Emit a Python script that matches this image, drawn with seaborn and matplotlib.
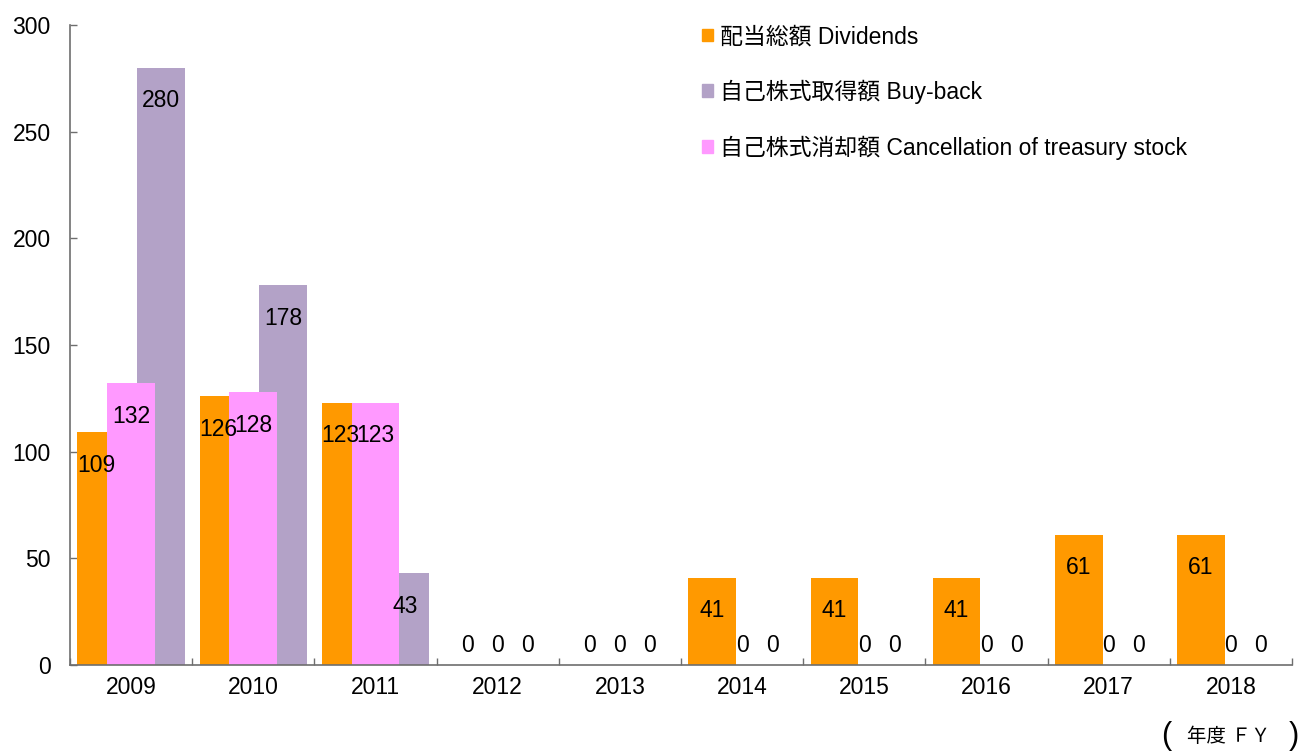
import numpy as np
import pandas as pd
import matplotlib
matplotlib.use("Agg")
import matplotlib.pyplot as plt
import seaborn as sns
from matplotlib.patches import Patch

years = ["2009", "2010", "2011", "2012", "2013", "2014", "2015", "2016", "2017", "2018"]
dividends = [109, 126, 123, 0, 0, 41, 41, 41, 61, 61]
buyback = [280, 178, 43, 0, 0, 0, 0, 0, 0, 0]
cancellation = [132, 128, 123, 0, 0, 0, 0, 0, 0, 0]

series_names = ["配当総額 Dividends", "自己株式取得額 Buy-back", "自己株式消却額 Cancellation of treasury stock"]
colors = {"div": "#FF9900", "buy": "#B3A2C7", "can": "#FF99FF"}

sns.set_theme(style="white")
plt.rcParams["font.family"] = ["Liberation Sans", "Noto Sans CJK JP", "DejaVu Sans"]
plt.rcParams["text.color"] = "black"

fig = plt.figure(figsize=(12.99, 7.52), dpi=100)
ax = fig.add_axes([70 / 1299, 1 - 665 / 752, 1222 / 1299, 640 / 752])

idx = np.arange(len(years))
offsets = {"div": -0.245, "can": 0.0, "buy": 0.245}
values = {"div": dividends, "buy": buyback, "can": cancellation}

# orange first, then purple, pink on top (as in the original)
for key in ["div", "buy", "can"]:
    df = pd.DataFrame({"pos": idx + offsets[key], "val": values[key]})
    sns.barplot(data=df, x="pos", y="val", native_scale=True, orient="x",
                width=0.39, color=colors[key], saturation=1, linewidth=0, ax=ax)

# value labels
for i in idx:
    for key in ["div", "can", "buy"]:
        v = values[key][i]
        y = 9.0 if v == 0 else v - 15.5
        xoff = -0.04 if (key == "div" and i < 3) else 0
        ax.text(i + offsets[key] + xoff, y, f"{v}", ha="center", va="center", fontsize=16.5, color="black")

ax.set_xlim(-0.5, len(years) - 0.5)
ax.set_ylim(0, 300)
ax.set_yticks(np.arange(0, 301, 50))
ax.set_xticks(np.arange(-0.5, len(years), 1.0))
ax.set_xticklabels([])
ax.set_xticks(idx, minor=True)
ax.set_xticklabels(years, minor=True)
axis_col = "#6e6e6e"
ax.tick_params(axis="x", which="major", direction="in", length=5, width=1, color=axis_col, bottom=True)
ax.tick_params(axis="x", which="minor", length=0, labelsize=16.5, pad=8, labelcolor="black")
ax.tick_params(axis="y", direction="in", length=5, width=1, color=axis_col, left=True,
               labelsize=16.5, pad=14, labelcolor="black")
ax.set_xlabel("")
ax.set_ylabel("")
for s in ["top", "right"]:
    ax.spines[s].set_visible(False)
for s in ["left", "bottom"]:
    ax.spines[s].set_color(axis_col)
    ax.spines[s].set_linewidth(1.2)
ax.grid(False)

handles = [Patch(color=colors["div"]), Patch(color=colors["buy"]), Patch(color=colors["can"])]
leg = fig.legend(handles, series_names, loc="upper left", bbox_to_anchor=(693 / 1299, 1 - 16 / 752),
                 frameon=False, fontsize=16.5, handlelength=0.48, handleheight=0.48, handletextpad=0.3,
                 labelspacing=1.38, borderaxespad=0)
for t in leg.get_texts():
    t.set_color("black")

fig.text(1229 / 1299, 1 - 737 / 752, "年度 ＦＹ", ha="center", va="center", fontsize=14)
fig.text(1166 / 1299, 1 - 736 / 752, "(", ha="center", va="center", fontsize=22, fontweight="light")
fig.text(1294 / 1299, 1 - 736 / 752, ")", ha="center", va="center", fontsize=22, fontweight="light")

fig.savefig("out.png", dpi=100)
